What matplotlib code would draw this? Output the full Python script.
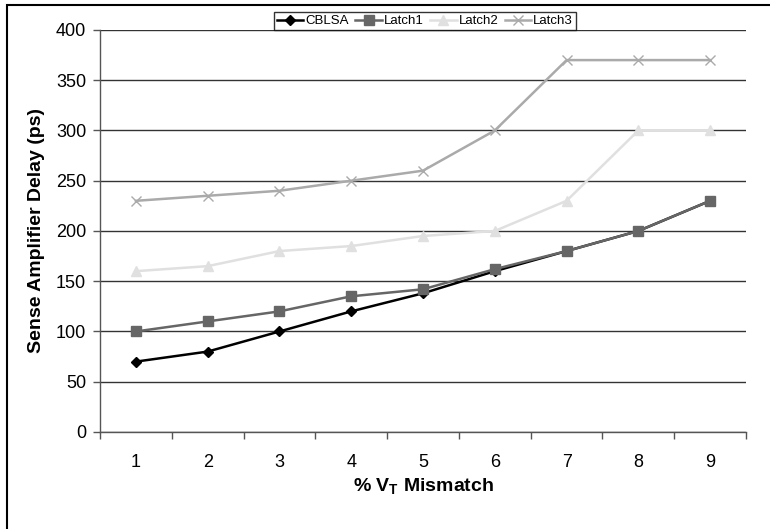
import matplotlib
matplotlib.use("Agg")
import matplotlib.pyplot as plt
from matplotlib.patches import Rectangle

plt.rcParams['font.family'] = ['Liberation Sans', 'DejaVu Sans']

# data
mismatch = [1, 2, 3, 4, 5, 6, 7, 8, 9]
cblsa = [70, 80, 100, 120, 138, 160, 180, 200, 230]
latch1 = [100, 110, 120, 135, 142, 162, 180, 200, 230]
latch2 = [160, 165, 180, 185, 195, 200, 230, 300, 300]
latch3 = [230, 235, 240, 250, 260, 300, 370, 370, 370]
yticks = [0, 50, 100, 150, 200, 250, 300, 350, 400]

fig = plt.figure(figsize=(7.7, 5.29), dpi=100)
ax = fig.add_axes([0.1299, 0.1834, 0.839, 0.76])

# outer chart frame (runs off the right/bottom of the image)
fig.patches.append(Rectangle((7/770, -0.1), 1.2, 1 - 5/529 + 0.1, transform=fig.transFigure,
                             fill=False, edgecolor='black', linewidth=1.5, clip_on=False))

# excel style: later series drawn on top
ax.plot(mismatch, cblsa, color='black', marker='D', markersize=5, linewidth=1.8, label='CBLSA', zorder=3)
ax.plot(mismatch, latch1, color='#666666', marker='s', markersize=6.5, linewidth=1.8, label='Latch1', zorder=4)
ax.plot(mismatch, latch2, color='#e0e0e0', marker='^', markersize=6.5, linewidth=1.8, label='Latch2', zorder=5)
ax.plot(mismatch, latch3, color='#aaaaaa', marker='x', markersize=7, linewidth=1.8, label='Latch3', zorder=6)

ax.set_xlim(0.5, 9.5)
ax.set_ylim(0, 400)
ax.set_yticks(yticks)
ax.set_xticks(mismatch)
ax.set_xticks([x + 0.5 for x in range(0, 10)], minor=True)
ax.tick_params(axis='x', which='major', length=0, pad=16, labelsize=13)
ax.tick_params(axis='x', which='minor', length=5, width=1, color='#555555', direction='out')
ax.tick_params(axis='y', length=5, width=1, color='#555555', labelsize=13, pad=5)
ax.yaxis.grid(True, color='#333333', linewidth=1)
ax.set_axisbelow(True)
for s in ['top', 'right']:
    ax.spines[s].set_visible(False)
for s in ['left', 'bottom']:
    ax.spines[s].set_color('#555555')
    ax.spines[s].set_linewidth(1)

ax.set_xlabel('% V$_\\mathregular{T}$ Mismatch', fontsize=14, fontweight='bold', labelpad=4)
ax.set_ylabel('Sense Amplifier Delay (ps)', fontsize=14, fontweight='bold', labelpad=8)

leg = ax.legend(ncol=4, loc='center', bbox_to_anchor=(425/770, 1 - 21/529), bbox_transform=fig.transFigure,
                fontsize=9.5, frameon=True, fancybox=False, handlelength=2.0, handletextpad=0.15,
                columnspacing=0.5, borderpad=0.25, borderaxespad=0)
leg.get_frame().set_edgecolor('black')
leg.get_frame().set_linewidth(1)

fig.savefig('out.png', dpi=100)
